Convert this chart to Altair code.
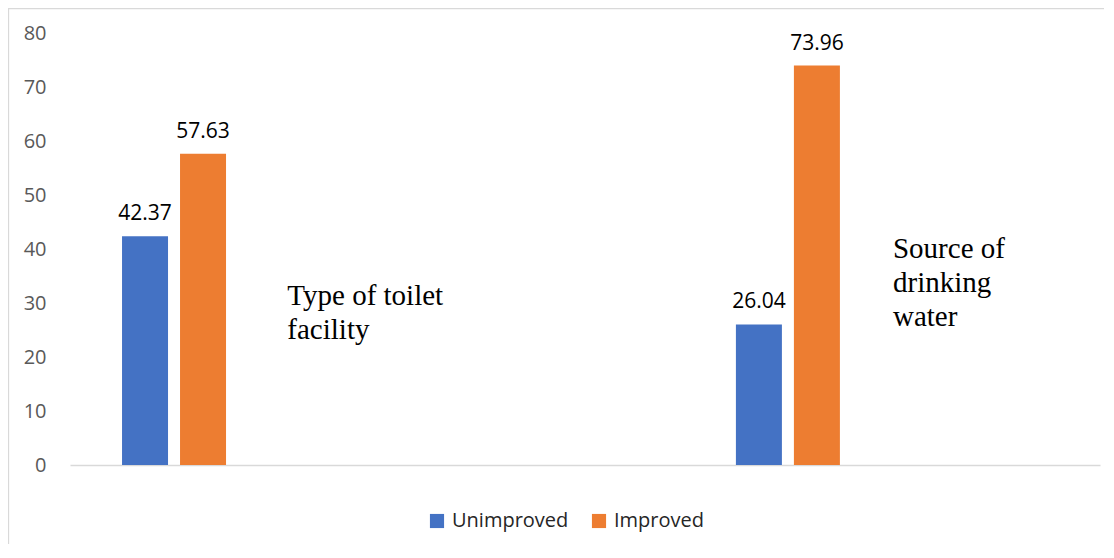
import altair as alt
import pandas as pd

# ---- data ----
categories = ["Type of toilet facility", "Source of drinking water"]
category_pos = [10.1, 69.7]          # cluster centres on a 0-100 horizontal scale
unimproved = [42.37, 26.04]
improved = [57.63, 73.96]
series = ["Unimproved", "Improved"]
colors = ["#4472C4", "#ED7D31"]
label_lines = [["Type of toilet", "facility"], ["Source of", "drinking", "water"]]
label_x = [21.1, 79.9]
label_y = [29.6, 38.3]
y_ticks = [0, 10, 20, 30, 40, 50, 60, 70, 80]

rows = []
for c, p, u, i in zip(categories, category_pos, unimproved, improved):
    rows.append({"category": c, "pos": p, "series": "Unimproved", "value": u})
    rows.append({"category": c, "pos": p, "series": "Improved", "value": i})
df = pd.DataFrame(rows)

labels_df = pd.DataFrame({"category": categories, "pos": label_x,
                          "value": label_y, "lines": label_lines})

x_scale = alt.Scale(domain=[0, 100], padding=0, nice=False, zero=False)
x_enc = alt.X("pos:Q", scale=x_scale,
              axis=alt.Axis(labels=False, ticks=False, grid=False, domain=True,
                            domainColor="#d9d9d9", domainWidth=1.3, title=None))
y_enc = alt.Y("value:Q", scale=alt.Scale(domain=[0, 80]),
              axis=alt.Axis(values=y_ticks, grid=False, domain=False, ticks=False,
                            labelPadding=24, labelFontSize=20, labelColor="#595959",
                            labelFont="Open Sans", title=None))
color_enc = alt.Color("series:N", scale=alt.Scale(domain=series, range=colors),
                      legend=alt.Legend(orient="none", legendX=357, legendY=478,
                                        direction="horizontal", title=None,
                                        symbolType="square", symbolSize=200,
                                        symbolStrokeWidth=0, labelFontSize=20,
                                        labelFont="Open Sans", labelColor="#262626",
                                        labelOffset=5, columnPadding=20))

base = alt.Chart(df)

layers = []
for s, off in zip(series, [-29, 29]):
    sub = base.transform_filter(alt.datum.series == s)
    layers.append(sub.mark_bar(width=46, xOffset=off).encode(x=x_enc, y=y_enc, color=color_enc))
    layers.append(sub.mark_text(xOffset=off, dy=-16, baseline="alphabetic",
                                fontSize=21, font="Open Sans", color="#000000")
                  .encode(x=alt.X("pos:Q", scale=x_scale), y="value:Q",
                          text=alt.Text("value:Q", format=".2f")))

cat_labels = alt.Chart(labels_df).mark_text(align="left", baseline="alphabetic",
                                            font="Liberation Serif", fontSize=29,
                                            lineHeight=34, color="#000000").encode(
    x=alt.X("pos:Q", scale=x_scale), y="value:Q", text="lines")

border = alt.Chart(pd.DataFrame({"a": [0]})).mark_rect(
    fill=None, stroke="#d9d9d9", strokeWidth=1.3).encode(
    x=alt.value(-61.5), x2=alt.value(1200), y=alt.value(-24.5), y2=alt.value(700))

chart = alt.layer(border, *layers, cat_labels).properties(
    width=1030, height=432,
    autosize=alt.AutoSizeParams(type="none"),
    padding={"left": 62, "top": 25, "right": 4, "bottom": 79},
    background="white",
).configure_view(stroke=None)

chart.save("out.html", embed_options={"renderer": "svg", "actions": False})
